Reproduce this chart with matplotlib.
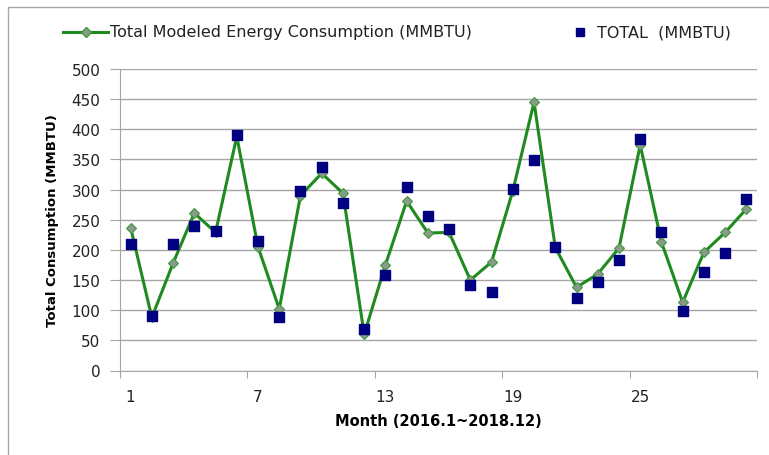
import matplotlib
matplotlib.use("Agg")
import matplotlib.pyplot as plt
from matplotlib.lines import Line2D
from matplotlib.patches import Rectangle

plt.rcParams['font.family'] = ['DejaVu Sans']

months = list(range(1, 31))
modeled = [237, 88, 178, 261, 229, 388, 205, 102, 290, 327,
           294, 60, 175, 281, 228, 229, 150, 180, 298, 445,
           204, 138, 160, 203, 374, 213, 113, 196, 229, 268]
actual = [209, 91, 209, 239, 232, 391, 215, 89, 298, 337,
          278, 69, 158, 305, 257, 234, 142, 131, 301, 349,
          204, 121, 147, 184, 384, 230, 98, 163, 195, 284]
xtick_labels = ['1', '7', '13', '19', '25']
xtick_pos = [1, 7, 13, 19, 25]

W, H = 769, 456
fig = plt.figure(figsize=(W / 100, H / 100), dpi=100)
fig.patches.append(Rectangle((8 / W, -0.1), 1.2, 1 - 8 / H + 0.1,
                             transform=fig.transFigure, fill=False,
                             edgecolor='#a6a6a6', linewidth=1))
ax = fig.add_axes([120 / W, 1 - 371.5 / H, (757 - 120) / W, (371.5 - 70) / H])

green = '#1f8a1f'
ax.plot(months, modeled, color=green, linewidth=2.2, marker='D',
        markersize=5.5, markerfacecolor='#8c9a8c', markeredgecolor='#3a9a3a',
        markeredgewidth=0.8, zorder=3)
ax.scatter(months, actual, marker='s', s=45, color='#000080', zorder=4)

ax.set_xlim(0.5, 30.5)
ax.set_ylim(0, 500)
ax.set_yticks(range(0, 501, 50))
ax.yaxis.grid(True, color='#a6a6a6', linewidth=1)
ax.set_axisbelow(True)

ax.set_xticks([0.5 + 6 * i for i in range(6)])
ax.set_xticklabels([])
ax.set_xticks(xtick_pos, minor=True)
ax.set_xticklabels(xtick_labels, minor=True)
ax.tick_params(axis='x', which='minor', length=0, pad=13, labelsize=11, labelcolor='#222222')
ax.tick_params(axis='x', which='major', length=5, color='#a6a6a6')
ax.tick_params(axis='y', length=7, color='#a6a6a6', labelsize=11, pad=7, labelcolor='#222222')

for s in ['top', 'right']:
    ax.spines[s].set_visible(False)
for s in ['left', 'bottom']:
    ax.spines[s].set_color('#a6a6a6')

ax.set_ylabel('Total Consumption (MMBTU)', fontsize=9.5, fontweight='bold', labelpad=9)
ax.set_xlabel('Month (2016.1~2018.12)', fontsize=10.5, fontweight='bold', labelpad=7)

# legend (manual placement)
ly = 1 - 33 / H
fig.add_artist(Line2D([63 / W, 108 / W], [ly, ly], transform=fig.transFigure,
                      color=green, linewidth=2.2))
fig.add_artist(Line2D([85.5 / W], [ly], transform=fig.transFigure, marker='D',
                      markersize=5, markerfacecolor='#8c9a8c', markeredgecolor='#3a9a3a'))
fig.text(110 / W, ly, 'Total Modeled Energy Consumption (MMBTU)', fontsize=11.5,
         va='center', ha='left', color='#222222')
fig.add_artist(Line2D([580 / W], [ly], transform=fig.transFigure, marker='s',
                      markersize=6, color='#000080', linestyle='none'))
fig.text(597 / W, ly, 'TOTAL  (MMBTU)', fontsize=11.5, va='center', ha='left', color='#222222')

fig.savefig('out.png', dpi=100)
